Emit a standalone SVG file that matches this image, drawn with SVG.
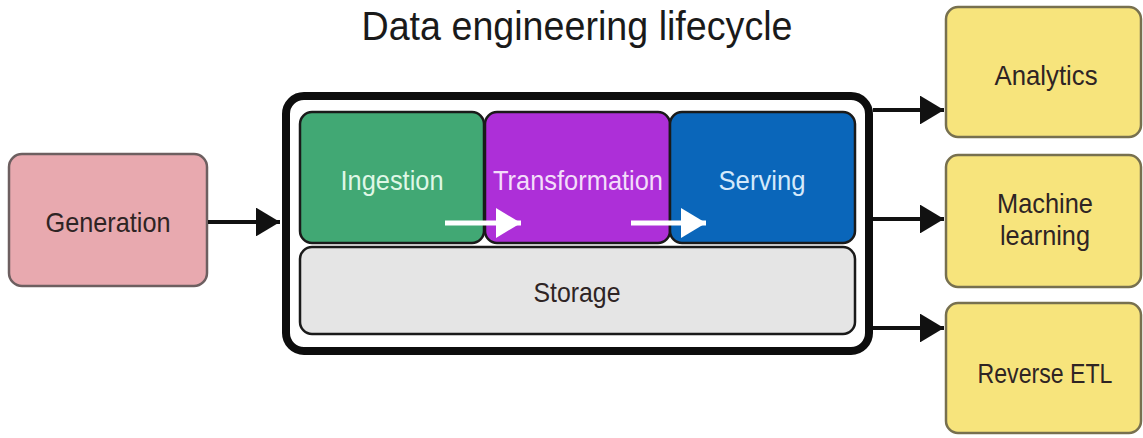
<svg xmlns="http://www.w3.org/2000/svg" width="1143" height="438" viewBox="0 0 1143 438">
<defs>
<marker id="ah" viewBox="0 0 10 12" refX="10" refY="6" markerWidth="6" markerHeight="7.2" markerUnits="strokeWidth" orient="auto"><path d="M0,0 L10,6 L0,12 z" fill="#111"/></marker>
<marker id="wh" viewBox="0 0 10 12" refX="10" refY="6" markerWidth="5" markerHeight="6" markerUnits="strokeWidth" orient="auto"><path d="M0,0 L10,6 L0,12 z" fill="#fff"/></marker>
</defs>
<style>
text{font-family:"Liberation Sans",Arial,sans-serif;text-anchor:middle;dominant-baseline:central}
.lbl{font-size:28px}
.dark{fill:#2e2424}
.phase{stroke:#1a1a1a;stroke-width:2.5}
.out{fill:#f7e47c;stroke:#77704f;stroke-width:2.5}
.conn{stroke:#111;stroke-width:4;fill:none;marker-end:url(#ah)}
.wconn{stroke:#fff;stroke-width:5;fill:none;marker-end:url(#wh)}
</style>
<rect width="1143" height="438" fill="#fff"/>
<text x="577" y="26" font-size="41" fill="#1a1a1a" textLength="431" lengthAdjust="spacingAndGlyphs">Data engineering lifecycle</text>
<g id="generation"><rect x="9" y="154" width="198" height="132" rx="13" fill="#e8a9af" stroke="#6d5f60" stroke-width="2.5"/><text class="lbl dark" x="108" y="222" textLength="125" lengthAdjust="spacingAndGlyphs">Generation</text></g>
<g id="lifecycle"><rect x="286" y="96" width="583" height="255" rx="18" fill="#fff" stroke="#0d0d0d" stroke-width="8"/></g>
<g id="storage"><rect x="300" y="247" width="555" height="87" rx="12" fill="#e5e5e5" class="phase"/><text class="lbl dark" x="577" y="292" textLength="87" lengthAdjust="spacingAndGlyphs">Storage</text></g>
<g id="ingestion"><rect x="300" y="112" width="184" height="131" rx="12" fill="#41a874" class="phase"/><text class="lbl" x="392" y="180" fill="#dff7e6" textLength="103" lengthAdjust="spacingAndGlyphs">Ingestion</text></g>
<g id="transformation"><rect x="485" y="112" width="185" height="131" rx="12" fill="#ad2fd8" class="phase"/><text class="lbl" x="578" y="180" fill="#f3ddfa" textLength="170" lengthAdjust="spacingAndGlyphs">Transformation</text></g>
<g id="serving"><rect x="670" y="112" width="185" height="131" rx="12" fill="#0a66ba" class="phase"/><text class="lbl" x="762" y="180" fill="#d4e9fb" textLength="87" lengthAdjust="spacingAndGlyphs">Serving</text></g>
<g id="analytics"><rect x="946" y="7" width="195" height="130" rx="12" class="out"/><text class="lbl dark" x="1046" y="75" textLength="103" lengthAdjust="spacingAndGlyphs">Analytics</text></g>
<g id="ml"><rect x="946" y="155" width="195" height="132" rx="12" class="out"/><text class="lbl dark" x="1045" y="203" textLength="96" lengthAdjust="spacingAndGlyphs">Machine</text><text class="lbl dark" x="1045" y="235" textLength="90" lengthAdjust="spacingAndGlyphs">learning</text></g>
<g id="reverse-etl"><rect x="946" y="303" width="195" height="130" rx="12" class="out"/><text class="lbl dark" x="1045" y="373" textLength="135" lengthAdjust="spacingAndGlyphs">Reverse ETL</text></g>
<g id="connectors">
<path class="conn" d="M208,222 H280"/>
<path class="conn" d="M873,110 H944"/>
<path class="conn" d="M873,219 H944"/>
<path class="conn" d="M873,328 H944"/>
<path class="wconn" d="M445,223 H521"/>
<path class="wconn" d="M631,223 H706"/>
</g>
</svg>
